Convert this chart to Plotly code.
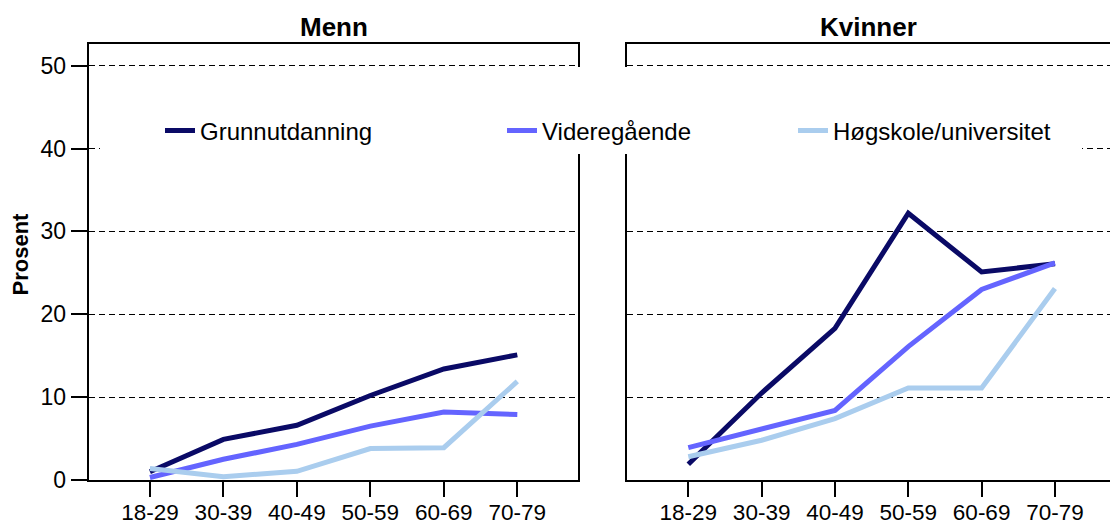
import plotly.graph_objects as go

categories = ["18-29", "30-39", "40-49", "50-59", "60-69", "70-79"]
series_names = ["Grunnutdanning", "Videregående", "Høgskole/universitet"]
menn_grunn = [1.0, 4.9, 6.6, 10.2, 13.4, 15.1]
menn_vgs = [0.3, 2.5, 4.3, 6.5, 8.2, 7.9]
menn_hoy = [1.4, 0.4, 1.05, 3.8, 3.9, 11.9]
kvinner_grunn = [1.9, 10.5, 18.3, 32.2, 25.1, 26.1]
kvinner_vgs = [3.9, 6.1, 8.4, 16.1, 23.0, 26.2]
kvinner_hoy = [2.8, 4.8, 7.4, 11.1, 11.1, 23.1]
y_ticks = [0, 10, 20, 30, 40, 50]
panel_titles = ["Menn", "Kvinner"]

colors = ["#0a0a66", "#6464ff", "#aacdee"]
W, H = 1110, 525
FONT = "Liberation Sans, Arial, sans-serif"

def px_x(p):
    return p / W

def px_y(p):
    return (H - p) / H

fig = go.Figure()
menn = [menn_grunn, menn_vgs, menn_hoy]
kvinner = [kvinner_grunn, kvinner_vgs, kvinner_hoy]
legends = ["legend", "legend2", "legend3"]
for i, name in enumerate(series_names):
    fig.add_trace(go.Scatter(x=categories, y=menn[i], mode="lines", name=name,
                             line=dict(color=colors[i], width=5),
                             xaxis="x", yaxis="y", legend=legends[i], showlegend=True))
for i, name in enumerate(series_names):
    fig.add_trace(go.Scatter(x=categories, y=kvinner[i], mode="lines", name=name,
                             line=dict(color=colors[i], width=5),
                             xaxis="x2", yaxis="y2", showlegend=False))

yr = [0, (480 - 44) / 8.286]
# right panel: visible part ends at the window edge
x2_right = (1110 - 688.3) / 73.33
common_x = dict(type="category", showline=True, linecolor="black", linewidth=2,
                ticks="outside", ticklen=15, tickwidth=2, tickcolor="black",
                showgrid=False, zeroline=False, automargin=False,
                ticklabelstandoff=-4,
                tickfont=dict(family=FONT, size=22.5, color="black"))
common_y = dict(range=yr, tickvals=y_ticks, showline=True, linecolor="black", linewidth=2,
                showgrid=True, gridcolor="black", gridwidth=1.3, griddash="6px,4px",
                zeroline=False, automargin=False, domain=[px_y(480), px_y(44)])

fig.update_layout(
    width=W, height=H, autosize=False,
    margin=dict(l=0, r=0, t=0, b=0, autoexpand=False),
    paper_bgcolor="white", plot_bgcolor="white",
    font=dict(family=FONT, color="black"),
    xaxis=dict(common_x, domain=[px_x(88.7), px_x(578.3)], range=[-0.833, 5.83],
               mirror=True, anchor="y"),
    yaxis=dict(common_y, anchor="x", mirror=True, ticks="outside", ticklen=16,
               tickwidth=2, tickcolor="black",
               tickfont=dict(family=FONT, size=23, color="black")),
    xaxis2=dict(common_x, domain=[px_x(626.7), 1.0], range=[-0.84, x2_right],
                mirror=True, anchor="y2"),
    yaxis2=dict(common_y, anchor="x2", mirror=False, ticks="", showticklabels=False),
    showlegend=True,
)

leg_common = dict(orientation="h", xanchor="left", yanchor="middle", y=px_y(131),
                  bgcolor="rgba(0,0,0,0)", borderwidth=0,
                  font=dict(family=FONT, size=24, color="black"))
fig.update_layout(
    legend=dict(leg_common, x=px_x(160)),
    legend2=dict(leg_common, x=px_x(502)),
    legend3=dict(leg_common, x=px_x(793)),
)

# white box behind the legend (covers gridlines/axis lines as in the reference)
fig.add_shape(type="rect", xref="paper", yref="paper",
              x0=px_x(100), x1=px_x(1082), y0=px_y(154), y1=px_y(67),
              fillcolor="white", line=dict(width=0), layer="above")

fig.add_annotation(text="<b>" + panel_titles[0] + "</b>", xref="paper", yref="paper",
                   x=px_x(333.5), y=px_y(27), xanchor="center", yanchor="middle",
                   showarrow=False, font=dict(family=FONT, size=26, color="black"))
fig.add_annotation(text="<b>" + panel_titles[1] + "</b>", xref="paper", yref="paper",
                   x=px_x(868), y=px_y(27), xanchor="center", yanchor="middle",
                   showarrow=False, font=dict(family=FONT, size=26, color="black"))
fig.add_annotation(text="<b>Prosent</b>", xref="paper", yref="paper",
                   x=px_x(20), y=px_y(254.5), xanchor="center", yanchor="middle",
                   textangle=-90, showarrow=False,
                   font=dict(family=FONT, size=22, color="black"))

fig.write_html("out.html", config={"displayModeBar": False},
               post_script="document.body.style.margin='0px';"
                           "document.body.style.overflow='hidden';")
